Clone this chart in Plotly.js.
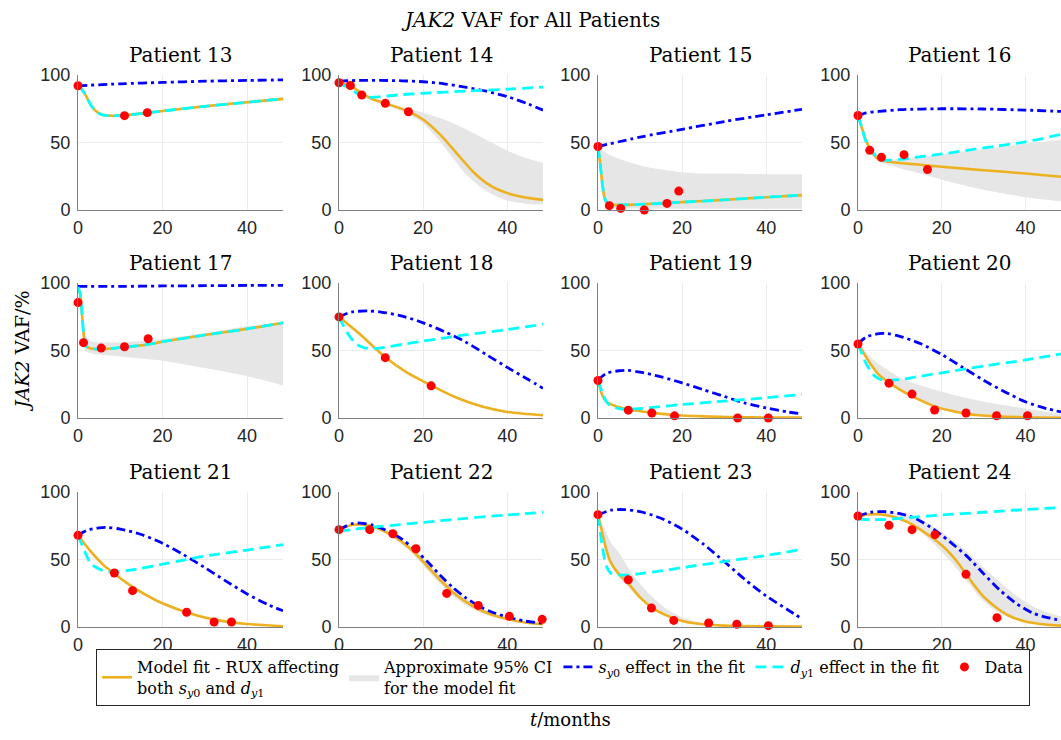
<!DOCTYPE html>
<html><head><meta charset="utf-8">
<script src="https://cdn.plot.ly/plotly-3.0.1.min.js"></script>
<style>html,body{margin:0;padding:0;background:#fff}#chart{width:1061px;height:740px}</style>
</head><body><div id="chart"></div>
<script>
// ---------------- DATA ----------------
const patients = [13,14,15,16,17,18,19,20,21,22,23,24];
const xTicks = [0,20,40];
const yTicks = [0,50,100];

// Patient 13
const p13_fitT = [0,1,2,3,4,5,6,8,11,16.5,20,30,40,48.5];
const p13_fit  = [92,89,84,78,74,71.5,70.3,69.8,70.2,72,73.3,76.8,79.8,82.3];
const p13_ciT  = [0,1,2,3,4,5,6,8,11,16.5,20,30,40,48.5];
const p13_ciUp = [92,89.5,84.8,78.8,74.8,72.3,71.1,70.6,71,72.8,74.1,77.8,81,83.6];
const p13_ciLo = [92,88.5,83.2,77.2,73.2,70.7,69.5,69,69.4,71.2,72.5,75.8,78.6,81];
const p13_sT   = [0,10,20,30,40,48.5];
const p13_s    = [92,93.5,94.5,95.4,96,96.4];
const p13_dT   = [0,1,2,3,4,5,6,8,11,16.5,20,30,40,48.5];
const p13_d    = [92,89,84,78,74,71.5,70.3,69.8,70.2,72,73.3,76.8,79.8,82.3];
const p13_dataT = [0,11,16.4];
const p13_data  = [92,69.9,72.1];

// Patient 14
const p14_fitT = [0,2.7,5.4,8,11,16.5,20,24,28,32,36,40,44,48.5];
const p14_fit  = [94,92,86.5,82,79,73,67,56,42,28,18,12.5,9.5,7.5];
const p14_ciT  = [0,2.7,5.4,8,11,16.5,20,25,30,35,40,45,48.5];
const p14_ciUp = [94,92.5,87,82.8,80,75,72,67,60,52,44,38,35];
const p14_ciLo = [94,91.5,86,81.2,78,71,64,47,27,14,7,4.5,4];
const p14_sT   = [0,5,10,15,20,25,30,35,40,45,48.5];
const p14_s    = [95.5,96,96,95.7,95,93.5,91,88,84,78.5,74];
const p14_dT   = [0,2,4,6,8,10,15,20,30,40,48.5];
const p14_d    = [94,91,87,84,83.5,84,85.5,86.5,88,89.5,91];
const p14_dataT = [0,2.7,5.4,11,16.5];
const p14_data  = [94.3,92.2,85.2,79,72.8];

// Patient 15
const p15_fitT = [0,0.5,1,1.5,2,3,5,10,20,30,40,48.5];
const p15_fit  = [47,35,20,10,6,4,3.8,4.2,5.8,7.5,9.5,11];
const p15_ciT  = [0,0.5,1,2,5,10,15,20,25,30,40,48.5];
const p15_ciUp = [47,45,44,42,38,33,30,28,27,27,26.5,26.5];
const p15_ciLo = [47,30,12,3,1.5,1,1,1,1,1,1,1];
const p15_sT   = [0,10,20,30,40,48.5];
const p15_s    = [47,54,59.8,65.5,70.5,74.6];
const p15_dT   = [0,0.5,1,1.5,2,3,5,10,20,30,40,48.5];
const p15_d    = [47,35,20,10,6,4,3.8,4.2,5.8,7.5,9.5,11];
const p15_dataT = [0,2.7,5.4,11,16.4,19.2];
const p15_data  = [47,3.2,1.2,0,4.9,14];

// Patient 16
const p16_fitT = [0,1,2,3,4,5,6,8,10,15,20,30,40,48.5];
const p16_fit  = [70,60,51,45,40,37.5,36.5,35.5,34.8,33.5,32,29.5,27,24.6];
const p16_ciT  = [0,1,2,3,5,8,10,15,20,30,40,48.5];
const p16_ciUp = [70,61,52,46,39.5,37.5,38,39.5,41.5,45,49,52];
const p16_ciLo = [70,59,48,42,36,33,31,27,22.5,15,9.5,6.5];
const p16_sT   = [0,2,5,10,20,30,40,48.5];
const p16_s    = [70,72,73,74.3,75,74.8,74,73];
const p16_dT   = [0,1,2,4,6,8,10,15,20,30,40,48.5];
const p16_d    = [70,60,50,41,37,37,37.5,39.5,41.5,46,50.5,56];
const p16_dataT = [0,2.8,5.6,11,16.6];
const p16_data  = [70,44.2,39,41,30];

// Patient 17
const p17_fitT = [0,0.5,1,1.5,2,3,5,8,11,16.5,20,30,40,48.5];
const p17_fit  = [97,92,75,58,53,51.5,51,51.5,52.5,54.5,56.5,61.5,66,70.5];
const p17_ciT  = [0,0.5,1,1.5,2,3,5,10,15,20,30,40,48.5];
const p17_ciUp = [97,93,80,66,60,57,56,56,57,58.5,63,68,70.5];
const p17_ciLo = [97,90,70,52,49,48,47,45.5,44,42.5,37,31,24];
const p17_sT   = [0,10,20,30,40,48.5];
const p17_s    = [97.5,97.5,97.8,98,98.2,98.3];
const p17_dT   = [0,0.5,1,1.5,2,3,5,8,11,16.5,20,30,40,48.5];
const p17_d    = [97,92,75,58,53,51.5,51,51.5,52.5,54.5,56.5,61.5,66,70.5];
const p17_dataT = [0,1.3,5.5,11,16.6];
const p17_data  = [85.5,55.8,51.8,52.8,58.7];

// Patient 18
const p18_fitT = [0,5,11,16,22,28,34,40,48.5];
const p18_fit  = [75,62,45,34,24,15,8.5,4.5,2];
const p18_ciT  = [0,5,11,16,22,28,34,40,48.5];
const p18_ciUp = [75,62.8,45.8,34.8,24.8,15.8,9.2,5.1,2.4];
const p18_ciLo = [75,61.2,44.2,33.2,23.2,14.2,7.8,3.9,1.6];
const p18_sT   = [0,3,7,10,15,20,25,30,35,40,45,48.5];
const p18_s    = [75,78.5,79.3,78.5,75.5,70.5,64,56.5,47,37.5,28.5,22];
const p18_dT   = [0,2,4,6,8,10,15,20,30,40,48.5];
const p18_d    = [75,63,55,52,51.5,52,54.5,57,61.5,65.5,69.5];
const p18_dataT = [0,11,21.9];
const p18_data  = [74.9,44.7,23.8];

// Patient 19
const p19_fitT = [0,1,2,4,7,10,13,18,25,33,40,48.5];
const p19_fit  = [28,17,12,9,6.5,5,3.8,2.2,1.2,0.6,0.4,0.3];
const p19_ciT  = [0,1,2,4,7,10,13,18,25,33,40,48.5];
const p19_ciUp = [28,18,13,10,7.3,5.8,4.5,2.8,1.6,0.9,0.6,0.4];
const p19_ciLo = [28,16,11,8.2,5.8,4.3,3.2,1.7,0.9,0.4,0.2,0.2];
const p19_sT   = [0,2,5,7,10,15,20,25,30,35,40,45,48.5];
const p19_s    = [28,33,35,35.3,34,30.5,26,21,16,11,7.5,4.5,3];
const p19_dT   = [0,1,2,3,5,7,10,15,20,30,40,48.5];
const p19_d    = [28,19,12,9,7,6.5,7,8.5,10,12.5,15,17.5];
const p19_dataT = [0,7.2,12.8,18.2,33.2,40.5];
const p19_data  = [27.8,5.8,3.7,1.6,0,0];

// Patient 20
const p20_fitT = [0,3,5,7.5,10,13,18,22,26,33,40,48.5];
const p20_fit  = [55,40,32,26,21,16,9,5.5,3,1.2,0.5,0.2];
const p20_ciT  = [0,3,5,10,15,20,25,30,35,40,44,48.5];
const p20_ciUp = [55,45,40,30,24,19.5,15.5,12,9.5,7,5,3];
const p20_ciLo = [55,39,31,20,12,7,3.5,1.5,0.8,0.3,0.2,0.1];
const p20_sT   = [0,2,5,7,10,15,20,25,30,35,40,45,48.5];
const p20_s    = [55,60,62.5,62.5,60.5,55,47,37.5,28,19.5,12,7,4.5];
const p20_dT   = [0,2,4,6,8,10,15,20,30,40,48.5];
const p20_d    = [55,40,31,28,28,28.5,31,33.5,38.5,43,47.5];
const p20_dataT = [0,7.4,12.9,18.3,25.8,33.1,40.5];
const p20_data  = [54.8,25.8,17.7,5.9,3.7,1.7,1.7];

// Patient 21
const p21_fitT = [0,3,6,8.6,13,18,22,26,30,35,40,48.5];
const p21_fit  = [68,56,46,39.5,29.5,20.5,15,10.5,7,4,2.2,0.6];
const p21_ciT  = [0,3,6,8.6,13,18,22,26,30,35,40,48.5];
const p21_ciUp = [68,57.5,47.5,41,31,21.8,16.2,11.5,7.8,4.6,2.6,0.8];
const p21_ciLo = [68,55,45,38.5,28.5,19.5,14,9.7,6.3,3.5,1.8,0.4];
const p21_sT   = [0,2,5,7,10,15,20,25,30,35,40,45,48.5];
const p21_s    = [68,71.5,73.5,73.7,72.5,68.5,62,53.5,44,34,24.5,16.5,12];
const p21_dT   = [0,2,3,5,7,9,12,15,20,25,30,40,48.5];
const p21_d    = [68,53,47,43,41,41,42,43.5,46.5,49.5,52.5,57,61];
const p21_dataT = [0,8.6,12.9,25.7,32.2,36.3];
const p21_data  = [67.9,40,26.9,10.9,3.7,3.7];

// Patient 22
const p22_fitT = [0,3,5,8,12,15,18,21,24,27,30,33,36,40,44,48.5];
const p22_fit  = [72,75.5,76,74.5,69,63,55,45,35,26,19,13.5,9.5,6,3.5,2];
const p22_ciT  = [0,3,5,8,12,15,18,21,24,27,30,33,36,40,44,48.5];
const p22_ciUp = [72,76.5,77,75.8,70.7,65,57.5,48,38,29,21.5,15.5,11,7,4.2,2.5];
const p22_ciLo = [72,75,75,73.5,67.5,61,52.5,42,32,23,16.5,11.5,8,5,2.8,1.5];
const p22_sT   = [0,3,5,8,12,15,18,21,24,27,30,33,36,40,44,48.5];
const p22_s    = [72,76.5,77,75.5,70.5,65,57.5,48.5,38.5,29.5,22,16,11.5,7.5,4.5,2.8];
const p22_dT   = [0,3,5,10,20,30,40,48.5];
const p22_d    = [71,72,73,74.5,77.5,80.5,83,85];
const p22_dataT = [0,7.3,12.8,18.3,25.6,33.1,40.5,48.3];
const p22_data  = [72.1,72.1,69.1,58,24.9,16,7.9,5.7];

// Patient 23
const p23_fitT = [0,1,2,3,5,7,10,13,16,20,25,30,40,48.5];
const p23_fit  = [83,70,57,48,39,33,22,14,9,4.5,2,1,0.5,0.3];
const p23_ciT  = [0,1,2,3,5,8,10,13,16,20,25,30,40,48.5];
const p23_ciUp = [83,77,70,63,55,40,32,22,14,7,3,1.5,0.6,0.4];
const p23_ciLo = [83,69,55,46,37,27,20.5,12.8,8,3.8,1.6,0.8,0.4,0.2];
const p23_sT   = [0,3,6,10,15,20,25,30,35,40,45,48.5];
const p23_s    = [83,86.5,87,85.5,80.5,72.5,61.5,48.5,35,23,13,6];
const p23_dT   = [0,1,2,3,5,7,10,15,20,30,40,48.5];
const p23_d    = [83,60,45,40,38.5,38.5,39.5,41.5,44,48.5,53,57.5];
const p23_dataT = [0,7.2,12.7,18,26.3,33,40.5];
const p23_data  = [83.2,35,14.1,4.9,3,2,1];

// Patient 24
const p24_fitT = [0,3,5,8,12,15,18,20,22,24,26,28,30,33,36,40,44,48.5];
const p24_fit  = [82,83.5,83.5,82,77.5,72,65.5,60.5,54.5,47,38.5,30,22.5,14.5,8.5,4,2,1];
const p24_ciT  = [0,5,10,14,18,22,26,30,34,38,42,46,48.5];
const p24_ciUp = [82,85,84,81,74.5,66,56,44,33,23,15,10,8];
const p24_ciLo = [82,82.5,79,73,62,49,34,19,10,5,2.5,1.2,1];
const p24_sT   = [0,3,6,10,14,18,20,22,26,30,34,38,42,46,48.5];
const p24_s    = [82,85,85.5,84,80,72.5,68,63,52.5,39.5,27,17,10,6.5,5];
const p24_dT   = [0,3,5,10,20,30,40,48.5];
const p24_d    = [80,79.5,79.5,80.5,83,85,87,88.5];
const p24_dataT = [0,7.4,12.9,18.4,25.8,33.2];
const p24_data  = [82.2,75.3,72.1,68.4,39,6.9];

// ---------------- TABLE BUILT FROM THE ARRAYS ----------------
const src = {
 13:[p13_fitT,p13_fit,p13_ciT,p13_ciUp,p13_ciLo,p13_sT,p13_s,p13_dT,p13_d,p13_dataT,p13_data],
 14:[p14_fitT,p14_fit,p14_ciT,p14_ciUp,p14_ciLo,p14_sT,p14_s,p14_dT,p14_d,p14_dataT,p14_data],
 15:[p15_fitT,p15_fit,p15_ciT,p15_ciUp,p15_ciLo,p15_sT,p15_s,p15_dT,p15_d,p15_dataT,p15_data],
 16:[p16_fitT,p16_fit,p16_ciT,p16_ciUp,p16_ciLo,p16_sT,p16_s,p16_dT,p16_d,p16_dataT,p16_data],
 17:[p17_fitT,p17_fit,p17_ciT,p17_ciUp,p17_ciLo,p17_sT,p17_s,p17_dT,p17_d,p17_dataT,p17_data],
 18:[p18_fitT,p18_fit,p18_ciT,p18_ciUp,p18_ciLo,p18_sT,p18_s,p18_dT,p18_d,p18_dataT,p18_data],
 19:[p19_fitT,p19_fit,p19_ciT,p19_ciUp,p19_ciLo,p19_sT,p19_s,p19_dT,p19_d,p19_dataT,p19_data],
 20:[p20_fitT,p20_fit,p20_ciT,p20_ciUp,p20_ciLo,p20_sT,p20_s,p20_dT,p20_d,p20_dataT,p20_data],
 21:[p21_fitT,p21_fit,p21_ciT,p21_ciUp,p21_ciLo,p21_sT,p21_s,p21_dT,p21_d,p21_dataT,p21_data],
 22:[p22_fitT,p22_fit,p22_ciT,p22_ciUp,p22_ciLo,p22_sT,p22_s,p22_dT,p22_d,p22_dataT,p22_data],
 23:[p23_fitT,p23_fit,p23_ciT,p23_ciUp,p23_ciLo,p23_sT,p23_s,p23_dT,p23_d,p23_dataT,p23_data],
 24:[p24_fitT,p24_fit,p24_ciT,p24_ciUp,p24_ciLo,p24_sT,p24_s,p24_dT,p24_d,p24_dataT,p24_data]
};

// ---------------- STYLE / LAYOUT ----------------
const W = 1061, H = 740;
const colPx = [[78,283],[339,543],[598,802],[858,1061]];
const rowPx = [[75,210],[283,418],[492,627]];
const serif = 'DejaVu Serif, serif';
const sans = 'Liberation Sans, Arial, sans-serif';
const cOrange = '#EDB120', cBlue = '#0000FF', cCyan = '#00FFFF', cRed = '#FF0000', cCI = '#E6E6E6';

const names = {
  fit: 'Model fit - RUX affecting<br>both <i>s</i><sub><i>y</i>0</sub> and <i>d</i><sub><i>y</i>1</sub>',
  ci: 'Approximate 95% CI<br>for the model fit',
  s: '<i>s</i><sub><i>y</i>0</sub> effect in the fit',
  d: '<i>d</i><sub><i>y</i>1</sub> effect in the fit',
  data: 'Data'
};

const traces = [];
const layout = {
  width: W, height: H,
  margin: {l:0, r:0, t:0, b:0},
  paper_bgcolor: '#fff', plot_bgcolor: '#fff',
  showlegend: true,
  legend: {
    orientation: 'h', x: 96/W, y: 1 - 649/H, xanchor: 'left', yanchor: 'top',
    bordercolor: '#262626', borderwidth: 1, bgcolor: '#fff',
    font: {family: serif, size: 16, color: '#000'},
    traceorder: 'normal', valign: 'middle'
  },
  annotations: [],
  font: {family: sans}
};

patients.forEach((p, i) => {
  const [fitT, fit, ciT, ciUp, ciLo, sT, s, dT, d, dataT, data] = src[p];
  const r = Math.floor(i / 4), c = i % 4;
  const ax = i === 0 ? '' : String(i + 1);
  const xa = 'x' + ax, ya = 'y' + ax;
  const first = i === 0;
  const sm = 0.8;
  traces.push({x: ciT, y: ciLo, xaxis: xa, yaxis: ya, mode: 'lines', line: {width: 0, shape: 'spline', smoothing: sm},
    showlegend: false, hoverinfo: 'skip'});
  traces.push({x: ciT, y: ciUp, xaxis: xa, yaxis: ya, mode: 'lines', fill: 'tonexty', fillcolor: cCI,
    line: {width: 0, color: cCI, shape: 'spline', smoothing: sm}, name: names.ci, showlegend: first, legendrank: 2});
  traces.push({x: fitT, y: fit, xaxis: xa, yaxis: ya, mode: 'lines',
    line: {color: cOrange, width: 2.6, shape: 'spline', smoothing: sm}, name: names.fit, showlegend: first, legendrank: 1});
  traces.push({x: sT, y: s, xaxis: xa, yaxis: ya, mode: 'lines',
    line: {color: cBlue, width: 2.8, dash: '9px,4px,3px,4px', shape: 'spline', smoothing: sm}, name: names.s, showlegend: first, legendrank: 3});
  traces.push({x: dT, y: d, xaxis: xa, yaxis: ya, mode: 'lines',
    line: {color: cCyan, width: 2.8, dash: '11px,6px', shape: 'spline', smoothing: sm}, name: names.d, showlegend: first, legendrank: 4});
  traces.push({x: dataT, y: data, xaxis: xa, yaxis: ya, mode: 'markers', cliponaxis: false,
    marker: {color: cRed, size: 9}, name: names.data, showlegend: first, legendrank: 5});

  const axCommon = {
    showgrid: true, gridcolor: '#EBEBEB', gridwidth: 1,
    showline: true, linecolor: '#808080', linewidth: 1, zeroline: false,
    ticks: '', tickfont: {family: sans, size: 18, color: '#262626'}, fixedrange: true
  };
  layout['xaxis' + ax] = Object.assign({}, axCommon, {
    domain: [colPx[c][0]/W, colPx[c][1]/W], range: [0, 48.5], tickvals: xTicks, anchor: ya, ticklabelstandoff: 1
  });
  layout['yaxis' + ax] = Object.assign({}, axCommon, {
    domain: [1 - rowPx[r][1]/H, 1 - rowPx[r][0]/H], range: [0, 100], tickvals: yTicks, anchor: xa, ticklabelstandoff: 3
  });
  layout.annotations.push({
    text: 'Patient ' + p, xref: 'paper', yref: 'paper', showarrow: false,
    x: (colPx[c][0] + colPx[c][1]) / 2 / W, y: 1 - (rowPx[r][0] - 20) / H,
    xanchor: 'center', yanchor: 'middle', font: {family: serif, size: 20, color: '#000'}
  });
});

layout.annotations.push({
  text: '<i>JAK2</i> VAF for All Patients', xref: 'paper', yref: 'paper', showarrow: false,
  x: 0.5, y: 1 - 20/H, xanchor: 'center', yanchor: 'middle', font: {family: serif, size: 20, color: '#000'}
});
layout.annotations.push({
  text: '<i>JAK2</i> VAF/%', xref: 'paper', yref: 'paper', showarrow: false, textangle: -90,
  x: 22/W, y: 1 - 352/H, xanchor: 'center', yanchor: 'middle', font: {family: serif, size: 19, color: '#000'}
});
layout.annotations.push({
  text: '<i>t</i>/months', xref: 'paper', yref: 'paper', showarrow: false,
  x: 570/W, y: 1 - 719/H, xanchor: 'center', yanchor: 'middle', font: {family: serif, size: 18, color: '#000'}
});

Plotly.newPlot('chart', traces, layout, {displayModeBar: false, staticPlot: true});
</script>
</body></html>
